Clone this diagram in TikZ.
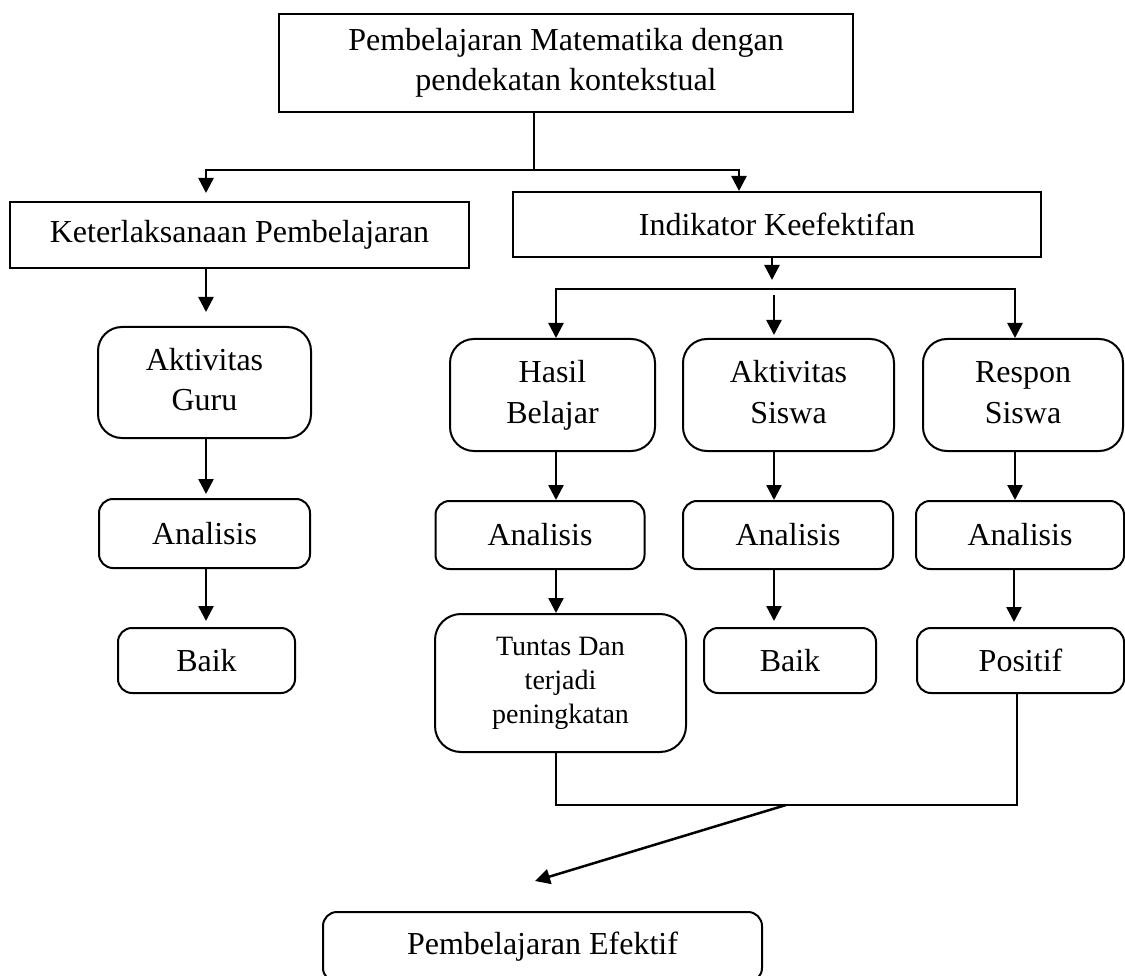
\documentclass[tikz,border=0pt]{standalone}
\usepackage{fontspec}
\setmainfont{Liberation Serif}
\usetikzlibrary{arrows.meta}
\tikzset{
  box/.style={draw, line width=2pt, inner sep=0pt, align=center, font=\fontsize{32}{40}\selectfont},
  rbox/.style={box, rounded corners=#1},
  conn/.style={line width=2pt},
  tip/.tip={Triangle[width=15pt,length=15pt]},
  arr/.style={line width=2.5pt, -tip},
  arrboth/.style={line width=2.5pt, tip-tip},
}
\begin{document}
\begin{tikzpicture}[x=1pt,y=-1pt]
\useasboundingbox (0,0) rectangle (1125,976);
\clip (0,0) rectangle (1125,976);
% boxes
\node[box, minimum width=574pt, minimum height=98pt] (top) at (566,63) {Pembelajaran Matematika dengan\\pendekatan kontekstual};
\node[box, minimum width=459pt, minimum height=66pt] (ket) at (239.5,235) {Keterlaksanaan Pembelajaran};
\node[box, minimum width=528pt, minimum height=65pt] (ind) at (777,224.5) {Indikator Keefektifan};
\node[rbox=24pt, minimum width=213pt, minimum height=111pt] (guru) at (204.5,382.5) {\strut Aktivitas\\Guru\strut};
\node[rbox=24pt, minimum width=205pt, minimum height=112pt] (hasil) at (552.5,395) {\strut Hasil\\Belajar\strut};
\node[rbox=24pt, minimum width=211pt, minimum height=112pt] (aksis) at (788.5,395) {\strut Aktivitas\\Siswa\strut};
\node[rbox=24pt, minimum width=200pt, minimum height=112pt] (respon) at (1023,395) {\strut Respon\\Siswa\strut};
\node[rbox=14pt, minimum width=211pt, minimum height=69pt] (an1) at (204.5,533.5) {Analisis};
\node[rbox=14pt, minimum width=209pt, minimum height=68pt] (an2) at (540,535) {Analisis};
\node[rbox=14pt, minimum width=210pt, minimum height=68pt] (an3) at (788,535) {Analisis};
\node[rbox=14pt, minimum width=208pt, minimum height=68pt] (an4) at (1020,535) {Analisis};
\node[rbox=14pt, minimum width=177pt, minimum height=65pt] (baik1) at (206.5,660.5) {Baik};
\node[rbox=26pt, minimum width=251pt, minimum height=138pt, font=\fontsize{28}{34}\selectfont] (tuntas) at (560.5,683) {Tuntas Dan\\terjadi\\peningkatan};
\node[rbox=14pt, minimum width=172pt, minimum height=65pt] (baik2) at (790,660.5) {Baik};
\node[rbox=14pt, minimum width=207pt, minimum height=65pt] (pos) at (1020.5,660.5) {Positif};
\node[rbox=14pt, minimum width=439pt, minimum height=70pt] (final) at (542.5,947) {Pembelajaran Efektif};
% top split
\coordinate (tj) at (534,170);
\coordinate (ka) at (206,193);
\coordinate (ia) at (739,170);
\draw[conn] (top.south -| tj) -- (tj);
\draw[arrboth] (ka) |- (ia) -- (ia |- ind.north);
% left column
\coordinate (g0) at (206,312);
\coordinate (g1) at (206,494);
\coordinate (g2) at (206,621);
\draw[arr] (ket.south -| g0) -- (g0);
\draw[arr] (guru.south -| g1) -- (g1);
\draw[arr] (an1.south -| g2) -- (g2);
% indikator split
\coordinate (s0) at (772,280);
\coordinate (sl) at (556,289);
\coordinate (sr) at (1015,289);
\coordinate (m0) at (774,295);
\coordinate (m1) at (774,335);
\draw[arr] (ind.south -| s0) -- (s0);
\draw[arrboth] (hasil.north -| sl) |- (sr) -- (respon.north -| sr);
\draw[arr] (m0) -- (m1);
% second level
\draw[arr] (hasil.south -| sl) -- (an2.north -| sl);
\draw[arr] (aksis.south -| m0) -- (an3.north -| m0);
\draw[arr] (respon.south -| sr) -- (an4.north -| sr);
% third level
\coordinate (t2) at (774,621);
\coordinate (t3) at (1014,622);
\draw[arr] (an2.south -| sl) -- (tuntas.north -| sl);
\draw[arr] (an3.south -| t2) -- (t2);
\draw[arr] (an4.south -| t3) -- (t3);
% bottom join
\coordinate (b0) at (556,805);
\coordinate (b1) at (1017,805);
\coordinate (d0) at (786,805);
\coordinate (d1) at (535,881);
\draw[conn] (tuntas.south -| b0) -- (b0) -- (b1) -- (pos.south -| b1);
\draw[arr] (d0) -- (d1);
\end{tikzpicture}
\end{document}
